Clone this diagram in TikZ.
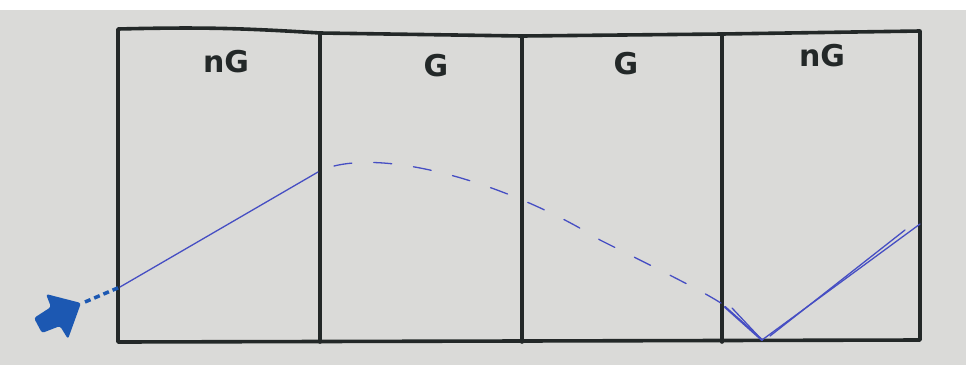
\documentclass[tikz,border=0pt]{standalone}
\usepackage{fontspec}
\setmainfont{DejaVu Sans}
\definecolor{penblue}{RGB}{70,78,195}
\definecolor{markblue}{RGB}{28,88,178}
\definecolor{ink}{RGB}{35,40,40}
\definecolor{paper}{RGB}{218,218,216}
\begin{document}
\begin{tikzpicture}[x=1pt,y=-1pt,
  frame/.style={draw=ink, line width=3.6pt, line cap=round, line join=round},
  lab/.style={font=\bfseries\fontsize{30}{30}\selectfont, text=ink},
  pen/.style={draw=penblue, line width=1.3pt, line cap=round},
  penth/.style={draw=markblue, line width=3.5pt}]
\useasboundingbox (0,0) rectangle (966,365);
\fill[paper] (0,10) rectangle (966,365);
\fill[white] (0,0) rectangle (966,10);
% frame corners
\coordinate (tl) at (118,29);
\coordinate (tr) at (920,31);
\coordinate (bl) at (118,342);
\coordinate (br) at (920,340);
\coordinate (t1) at (320,33);
\coordinate (t2) at (522,36);
\coordinate (t3) at (722,34);
\coordinate (b1) at (320,342);
\coordinate (b2) at (522,342);
\coordinate (b3) at (722,342);
\draw[frame] (tl) .. controls (200,27) and (240,28) .. (t1) -- (t2) -- (t3) -- (tr) -- (br) -- (bl) -- cycle;
\draw[frame] (t1) -- (b1);
\draw[frame] (t2) -- (b2);
\draw[frame] (t3) -- (b3);
% labels
\node[lab] (l1) at (226,62) {nG};
\node[lab] (l2) at (436,66) {G};
\node[lab] (l3) at (626,64) {G};
\node[lab] (l4) at (822,56) {nG};
% path
\coordinate (s0) at (85,302);
\coordinate (s1) at (120,287);
\coordinate (s2) at (318,172);
\coordinate (v) at (762,340);
\coordinate (e) at (920,224);
\draw[penth, dash pattern=on 6pt off 4pt] (s0) -- (s1);
\draw[pen] (s1) -- (s2);
\draw[pen, dash pattern=on 18pt off 22pt] (334,166) .. controls (400,150) and (520,190) .. (600,240) .. controls (680,280) and (720,300) .. (730,310);
\draw[pen, line width=2.2pt] (725,307) -- (v);
\draw[pen] (732,308) -- (v);
\draw[pen] (v) -- (e);
\draw[pen] (770,336) -- (905,230);
% arrow mark
\fill[markblue, rounded corners=2.5pt] (46,294) -- (81,303) -- (68,339) -- (60,326) -- (42,333) -- (34,318) -- (51,307) -- cycle;
\end{tikzpicture}
\end{document}
